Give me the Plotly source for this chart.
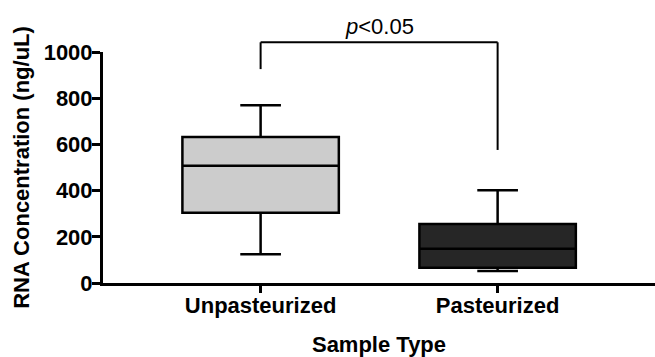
import plotly.graph_objects as go

categories = ["Unpasteurized", "Pasteurized"]
q1 = [304, 66]
median = [508, 148]
q3 = [632, 255]
lower_whisker = [125, 52]
upper_whisker = [770, 402]
fill_colors = ["#cccccc", "#262626"]

# significance bracket (data units)
bracket_top = 1042
bracket_left_end = 926
bracket_right_end = 576
p_label = "<i>p</i><0.05"

y_max = 1000
FONT = "Liberation Sans, Arial, sans-serif"
FS = 22

fig = go.Figure()
for i, cat in enumerate(categories):
    fig.add_trace(go.Box(
        x=[cat], q1=[q1[i]], median=[median[i]], q3=[q3[i]],
        lowerfence=[lower_whisker[i]], upperfence=[upper_whisker[i]],
        fillcolor=fill_colors[i], line=dict(color="black", width=2.5),
        width=0.66, whiskerwidth=0.26, boxpoints=False, showlegend=False,
        hoverinfo="skip",
    ))

# bracket drawn in x data / y paper so it can sit above the axis range
def yp(v):
    return v / y_max

bl = dict(color="black", width=2)
fig.add_shape(type="line", xref="x", yref="paper", x0=0, x1=0,
              y0=yp(bracket_left_end), y1=yp(bracket_top), line=bl)
fig.add_shape(type="line", xref="x", yref="paper", x0=0, x1=1,
              y0=yp(bracket_top), y1=yp(bracket_top), line=bl)
fig.add_shape(type="line", xref="x", yref="paper", x0=1, x1=1,
              y0=yp(bracket_right_end), y1=yp(bracket_top), line=bl)
fig.add_annotation(x=0.5, xref="x", y=yp(bracket_top), yref="paper", yanchor="bottom",
                   text=p_label, showarrow=False, yshift=1,
                   font=dict(family=FONT, size=FS, color="black"))

fig.update_layout(
    width=655, height=357,
    margin=dict(l=103, r=0, t=52, b=74),
    plot_bgcolor="white", paper_bgcolor="white",
    font=dict(family=FONT, color="black"),
    xaxis=dict(
        type="category", categoryorder="array", categoryarray=categories,
        range=[-0.665, 1.664],
        showline=True, linecolor="black", linewidth=3, showgrid=False, zeroline=False,
        ticks="outside", ticklen=7, tickwidth=2.5, tickcolor="black",
        ticklabelstandoff=-6,
        tickfont=dict(family=FONT, size=FS, color="black", weight="bold"),
        title=dict(text="<b>Sample Type</b>", font=dict(family=FONT, size=FS), standoff=23),
    ),
    yaxis=dict(
        range=[0, y_max], tickvals=[0, 200, 400, 600, 800, 1000],
        showline=True, linecolor="black", linewidth=3, showgrid=False, zeroline=False,
        ticks="outside", ticklen=8, tickwidth=2.5, tickcolor="black",
        ticklabelstandoff=-5,
        tickfont=dict(family=FONT, size=FS, color="black", weight="bold"),
        title=dict(text="<b>RNA Concentration (ng/uL)</b>", font=dict(family=FONT, size=FS), standoff=8),
    ),
)

fig.write_html("out.html")
